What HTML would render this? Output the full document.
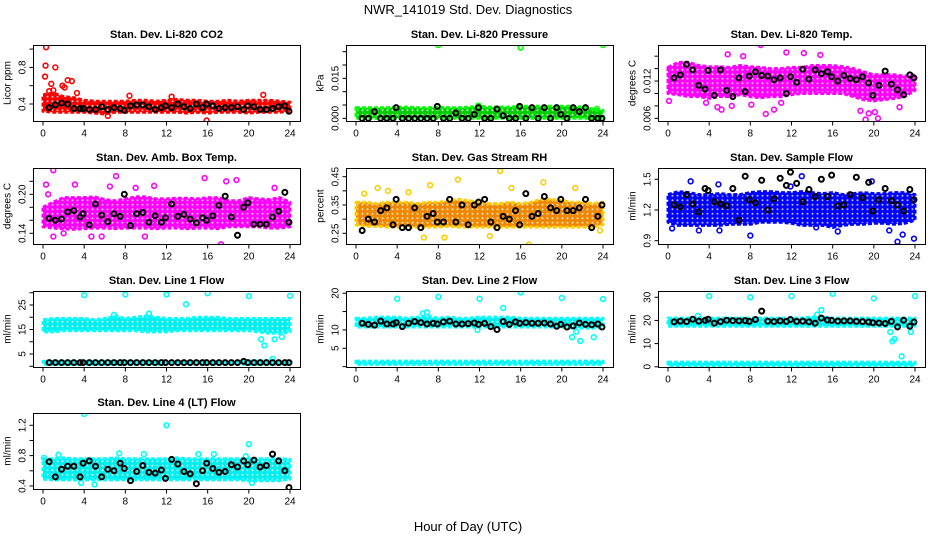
<!DOCTYPE html>
<html><head><meta charset="utf-8">
<style>
html,body{margin:0;padding:0;background:#fff;}
svg{display:block;font-family:"Liberation Sans",Arial,sans-serif;}
</style></head>
<body>
<svg id="chart" width="936" height="540" viewBox="0 0 936 540">
<defs id="defs"></defs>
<text x="468" y="14" text-anchor="middle" font-size="13">NWR_141019  Std. Dev. Diagnostics</text>
<text x="468" y="531" text-anchor="middle" font-size="13">Hour of Day (UTC)</text>
</svg>
<script>
const xTicks=[0,4,8,12,16,20,24];
const bandHours=[0,1,2,3,4,5,6,7,8,9,10,11,12,13,14,15,16,17,18,19,20,21,22,23,24];
const blackHours=[0.6,1.2,1.8,2.4,3.0,3.6,3.9,4.5,5.1,5.7,6.3,6.9,7.5,7.9,8.5,9.1,9.7,10.3,10.9,11.5,11.9,12.5,13.1,13.7,14.3,14.9,15.5,15.9,16.5,17.1,17.7,18.3,18.9,19.5,19.9,20.5,21.1,21.7,22.3,22.9,23.5,23.9];

// Panel 1 CO2
const p1Lo=[0.32,0.31,0.31,0.31,0.31,0.30,0.29,0.31,0.31,0.31,0.31,0.31,0.31,0.31,0.30,0.31,0.30,0.31,0.31,0.31,0.30,0.31,0.31,0.31,0.32];
const p1Hi=[0.50,0.52,0.48,0.47,0.44,0.43,0.43,0.43,0.43,0.44,0.44,0.43,0.44,0.45,0.44,0.44,0.43,0.43,0.44,0.43,0.44,0.44,0.44,0.43,0.42];
const p1OutX=[0.2,0.3,0.25,1.2,0.8,2.4,2.8,1.9,2.1,1.0,8.4,12.5,21.4,15.9,6.3,0.6,3.3];
const p1OutY=[0.70,1.02,0.82,0.80,0.62,0.66,0.65,0.60,0.58,0.55,0.49,0.48,0.50,0.22,0.27,0.54,0.52];
const p1Black=[0.36,0.39,0.41,0.40,0.35,0.35,0.35,0.34,0.34,0.37,0.34,0.36,0.35,0.33,0.38,0.39,0.39,0.37,0.34,0.36,0.38,0.36,0.40,0.37,0.35,0.40,0.36,0.40,0.38,0.35,0.36,0.36,0.37,0.34,0.38,0.37,0.34,0.34,0.35,0.37,0.38,0.32];
const p1YTicks=[0.4,0.6,0.8,1.0];
const p1YLabels=["0.4","","0.8",""];

// Panel 2 Pressure
const p2Lo=[0,0,0,0,0,0,0,0,0,0,0,0,0,0,0,0,0,0,0,0,0,0,0,0,0];
const p2Hi=[0.0040,0.0040,0.0040,0.0040,0.0042,0.0042,0.0040,0.0040,0.0042,0.0040,0.0040,0.0042,0.0045,0.0042,0.0042,0.0042,0.0045,0.0045,0.0045,0.0045,0.0045,0.0045,0.0042,0.0035,0.0030];
const p2OutX=[8,16,24,11.9,23.4];
const p2OutY=[0.0275,0.0265,0.0275,0.0048,0.0035];
const p2Black=[0,0,0.0025,0,0,0,0.004,0,0,0,0,0,0,0.0045,0,0,0.002,0,0,0.0015,0.004,0,0,0.0035,0.001,0,0,0.0045,0,0.004,0,0.004,0,0.004,0.0015,0,0.004,0.0025,0.004,0,0,0];
const p2YTicks=[0,0.005,0.010,0.015,0.020,0.025];
const p2YLabels=["0.000","","","0.015","",""];

// Panel 3 Temp
const p3Lo=[0.0100,0.0098,0.0095,0.0095,0.0092,0.0095,0.0095,0.0098,0.0095,0.0093,0.0095,0.0095,0.0098,0.0100,0.0100,0.0100,0.0100,0.0100,0.0095,0.0090,0.0088,0.0090,0.0092,0.0095,0.0105];
const p3Hi=[0.0142,0.0150,0.0150,0.0145,0.0143,0.0143,0.0142,0.0145,0.0143,0.0142,0.0140,0.0140,0.0142,0.0142,0.0145,0.0145,0.0145,0.0143,0.0140,0.0135,0.0130,0.0130,0.0130,0.0128,0.0130];
const p3OutX=[9.0,9.5,10.3,11.0,8.1,3.7,4.8,5.2,6.2,7.3,5.8,14.8,19.2,20.4,20.1,18.7,19.5,22.5,11.5,13.2,0.1];
const p3OutY=[0.0178,0.0067,0.0074,0.0085,0.0082,0.0085,0.0078,0.0074,0.0080,0.0160,0.0163,0.0162,0.0058,0.0060,0.0070,0.0072,0.0068,0.0078,0.0166,0.0165,0.0088];
const p3Black=[0.0125,0.0130,0.0147,0.0138,0.0113,0.0107,0.0137,0.0097,0.0138,0.0105,0.0095,0.0125,0.0103,0.0128,0.0135,0.0129,0.0128,0.0122,0.0125,0.0100,0.0127,0.0118,0.0139,0.0123,0.0138,0.0132,0.0135,0.0127,0.0120,0.0129,0.0124,0.0122,0.0127,0.0117,0.0097,0.0113,0.0136,0.0115,0.0106,0.0098,0.0130,0.0125];
const p3YTicks=[0.006,0.008,0.010,0.012,0.014,0.016];
const p3YLabels=["0.006","","","0.012","",""];

// Panel 4 Amb Box Temp
const p4Lo=[0.150,0.148,0.147,0.146,0.147,0.148,0.148,0.147,0.148,0.148,0.148,0.147,0.148,0.148,0.147,0.148,0.148,0.147,0.150,0.150,0.150,0.150,0.148,0.148,0.150];
const p4Hi=[0.180,0.188,0.195,0.195,0.195,0.196,0.192,0.190,0.193,0.196,0.196,0.193,0.193,0.194,0.194,0.193,0.195,0.195,0.190,0.190,0.195,0.193,0.192,0.195,0.188];
const p4OutX=[1.0,0.3,1.0,3.1,4.7,5.7,6.5,9.9,10.8,15.7,17.8,18.8,17.3,22.5,7.1,9.0,0.5,2.0];
const p4OutY=[0.237,0.215,0.135,0.215,0.135,0.135,0.212,0.135,0.213,0.225,0.220,0.222,0.123,0.210,0.228,0.210,0.200,0.140];
const p4Black=[0.163,0.160,0.162,0.173,0.175,0.165,0.170,0.153,0.185,0.168,0.158,0.170,0.166,0.200,0.152,0.170,0.172,0.157,0.167,0.157,0.164,0.185,0.166,0.169,0.162,0.156,0.164,0.160,0.167,0.183,0.197,0.165,0.137,0.180,0.187,0.154,0.154,0.154,0.165,0.174,0.203,0.157];
const p4YTicks=[0.14,0.16,0.18,0.20,0.22];
const p4YLabels=["0.14","","","0.20",""];

// Panel 5 RH
const p5Lo=[0.280,0.275,0.275,0.272,0.272,0.272,0.272,0.272,0.272,0.275,0.272,0.272,0.272,0.272,0.272,0.272,0.272,0.272,0.272,0.272,0.272,0.272,0.272,0.272,0.280];
const p5Hi=[0.360,0.360,0.355,0.360,0.360,0.360,0.355,0.360,0.360,0.365,0.370,0.365,0.360,0.355,0.355,0.360,0.355,0.360,0.370,0.370,0.365,0.360,0.360,0.355,0.360];
const p5OutX=[7.2,9.9,14.0,15.1,18.2,21.3,16.8,6.6,8.6,13.0,2.1,3.1,0.8,5.1,23.7];
const p5OutY=[0.42,0.44,0.47,0.41,0.43,0.41,0.21,0.235,0.235,0.24,0.41,0.40,0.39,0.395,0.26];
const p5Black=[0.26,0.30,0.29,0.33,0.34,0.28,0.37,0.27,0.27,0.34,0.27,0.31,0.32,0.29,0.29,0.37,0.29,0.35,0.28,0.35,0.36,0.37,0.29,0.27,0.31,0.30,0.33,0.28,0.39,0.31,0.32,0.38,0.34,0.33,0.37,0.33,0.33,0.34,0.37,0.27,0.31,0.35];
const p5YTicks=[0.25,0.30,0.35,0.40,0.45];
const p5YLabels=["0.25","","0.35","","0.45"];

// Panel 6 Sample Flow
const p6Lo=[1.08,1.05,1.05,1.05,1.05,1.05,1.06,1.06,1.06,1.08,1.08,1.08,1.07,1.05,1.05,1.05,1.03,1.05,1.06,1.06,1.07,1.07,1.06,1.07,1.10];
const p6Hi=[1.35,1.38,1.37,1.35,1.35,1.36,1.35,1.35,1.37,1.38,1.38,1.37,1.37,1.38,1.37,1.36,1.37,1.35,1.36,1.37,1.36,1.36,1.37,1.37,1.35];
const p6OutX=[0.4,2.2,4.9,8.0,3.0,13.0,19.8,22.3,22.8,23.9,16.5,5.0,11.9,14.4,21.5];
const p6OutY=[1.02,1.48,1.45,0.95,1.00,1.53,1.48,0.89,0.96,0.92,0.99,1.00,1.43,1.03,1.00];
const p6Black=[1.25,1.23,1.35,1.26,1.18,1.41,1.39,1.28,1.26,1.24,1.41,1.10,1.53,1.30,1.27,1.49,1.20,1.31,1.51,1.44,1.57,1.46,1.28,1.40,1.33,1.50,1.33,1.54,1.24,1.25,1.35,1.52,1.32,1.47,1.19,1.30,1.41,1.29,1.25,1.19,1.40,1.30];
const p6YTicks=[0.9,1.2,1.5];
const p6YLabels=["0.9","1.2","1.5"];

// Panel 7 Line 1 Flow
const p7Lo=[14,14,14.5,14.5,14.5,14.5,14.5,14.5,14.5,14.5,14,14,14,14.5,14.5,14.5,14.5,14.5,14.5,14.5,14.5,14,13.5,13.5,14];
const p7Hi=[19,19.5,19.5,19.5,19.5,19,19.5,20.5,19.5,20,20.5,20,19.5,19.5,19.5,20,20,20,19.5,19.5,19.5,19.5,19.5,19.5,19.5];
const p7Lo2=[0.8,0.8,0.8,0.8,0.8,0.8,0.8,0.8,0.8,0.8,0.8,0.8,0.8,0.8,0.8,0.8,0.8,0.8,0.8,0.8,0.8,0.8,0.8,0.8,0.8];
const p7Hi2=[2.0,2.0,2.0,2.0,2.0,2.0,2.0,2.0,2.0,2.0,2.0,2.0,2.0,2.0,2.0,2.0,2.0,2.0,2.0,2.0,2.2,2.2,2.2,2.0,2.0];
const p7OutX=[4,8,12,16,20,24,13.9,21.2,21.5,22.5,23.2,22.3,6.9,10.3];
const p7OutY=[29,29.3,29.3,29.8,28.6,28.7,25.3,11,8.5,11,12,3,21,21.5];
const p7Black=[1.5,1.5,1.5,1.5,1.5,1.5,1.5,1.5,1.5,1.5,1.5,1.5,1.5,1.5,1.5,1.5,1.5,1.5,1.5,1.5,1.5,1.5,1.5,1.5,1.5,1.5,1.5,1.5,1.5,1.5,1.5,1.5,1.5,2.0,1.5,1.5,1.5,1.5,1.5,1.5,1.5,1.5];
const p7YTicks=[0,5,10,15,20,25,30];
const p7YLabels=["","5","","15","","25",""];

// Panel 8 Line 2 Flow
const p8Lo=[10.8,10.8,10.8,10.8,10.8,10.8,10.8,10.8,10.8,10.8,10.8,10.8,10.8,10.8,10.8,10.8,10.8,10.8,10.8,10.8,10.8,10.5,10.5,10.5,10.8];
const p8Hi=[13.2,13.2,13.5,13.5,13.5,13.2,13.5,13.8,13.2,13.5,13.2,13.2,13.5,13.5,13.5,13.5,13.2,13.2,13.2,13.2,13.2,13.2,13.2,13.2,13.2];
const p8Lo2=[0.6,0.6,0.6,0.6,0.6,0.6,0.6,0.6,0.6,0.6,0.6,0.6,0.6,0.6,0.6,0.6,0.6,0.6,0.6,0.6,0.6,0.6,0.6,0.6,0.6];
const p8Hi2=[1.5,1.5,1.5,1.5,1.5,1.5,1.5,1.5,1.5,1.5,1.5,1.5,1.5,1.5,1.5,1.5,1.5,1.5,1.5,1.5,1.5,1.5,1.5,1.5,1.5];
const p8OutX=[4,8,12,16,20,24,14.3,11.8,21,21.8,21.4,23.1,6.5,6.9];
const p8OutY=[18.5,19,18.5,20.2,18.7,18.4,16,10,8,7,9.5,8,14.5,14.8];
const p8Black=[11.8,11.5,11.3,12.4,11.6,11.6,12.0,10.9,11.8,12.3,12.0,11.6,11.8,11.6,12.2,12.4,11.6,11.6,11.7,11.9,11.5,11.8,10.9,10.1,12.3,11.5,12.2,11.8,12.0,11.8,11.8,11.9,11.6,11.0,11.5,10.8,11.1,11.9,11.5,11.4,11.6,10.8];
const p8YTicks=[0,5,10,15,20];
const p8YLabels=["","5","10","","20"];

// Panel 9 Line 3 Flow
const p9Lo=[17.5,17.5,17.5,17.5,17.5,17.5,17.5,17.5,17.5,17.5,17.5,17.5,17.5,17.5,17.5,17.5,17.5,17.5,17.5,17.5,17.5,17.5,17.5,17.5,17.5];
const p9Hi=[21,21,21,21,21,21,21,21,21,21,21,21,21,21,21.5,21.5,21,21,21,21,21,21,21,21,21];
const p9Lo2=[0.5,0.5,0.5,0.5,0.5,0.5,0.5,0.5,0.5,0.5,0.5,0.5,0.5,0.5,0.5,0.5,0.5,0.5,0.5,0.5,0.5,0.5,0.5,0.5,0.5];
const p9Hi2=[2,2,2,2,2,2,2,2,2,2,2,2,2,2,2,2,2,2,2,2,2,2,2,2,2];
const p9OutX=[4,8,12,16,20,24,14.9,2.9,21.6,21.8,22,22.7,23.6,14.5];
const p9OutY=[30.5,30,30.5,31.5,29.5,30.5,24.5,22,15,11,12,4.5,15,22.5];
const p9Black=[19.4,19.7,19.5,20.5,19.7,20.0,20.5,18.8,19.5,20.1,19.9,19.8,19.9,19.6,20.4,24.0,19.7,19.5,19.8,19.6,20.4,19.6,19.7,19.4,18.8,21.0,20.2,20.0,19.7,19.8,19.8,19.6,19.5,19.3,19.0,18.9,18.7,19.6,17.2,20.1,17.5,19.3];
const p9YTicks=[0,10,20,30];
const p9YLabels=["0","10","20","30"];

// Panel 10 Line 4 (LT) Flow
const p10Lo=[0.49,0.48,0.48,0.48,0.48,0.48,0.48,0.48,0.48,0.48,0.48,0.48,0.48,0.48,0.48,0.48,0.48,0.48,0.48,0.48,0.47,0.47,0.47,0.47,0.49];
const p10Hi=[0.76,0.76,0.77,0.76,0.76,0.76,0.76,0.77,0.76,0.76,0.76,0.76,0.76,0.77,0.76,0.76,0.76,0.76,0.76,0.76,0.76,0.76,0.76,0.76,0.75];
const p10OutX=[4,12,20,7.4,5,3.7,1.5,9.8,15.1,16.6,19.7,20.3,0.1];
const p10OutY=[1.35,1.2,0.95,0.83,0.42,0.44,0.81,0.82,0.82,0.82,0.79,0.44,0.77];
const p10Black=[0.72,0.52,0.62,0.66,0.66,0.52,0.70,0.73,0.66,0.52,0.62,0.60,0.70,0.63,0.47,0.59,0.67,0.58,0.57,0.61,0.50,0.75,0.69,0.59,0.56,0.43,0.60,0.70,0.63,0.58,0.59,0.68,0.65,0.73,0.68,0.74,0.65,0.67,0.82,0.73,0.60,0.38];
const p10YTicks=[0.4,0.6,0.8,1.0,1.2];
const p10YLabels=["0.4","","0.8","","1.2"];

const panels=[
 {title:"Stan. Dev. Li-820 CO2",ylab:"Licor ppm",L:33,T:45,lo:p1Lo,hi:p1Hi,ox:p1OutX,oy:p1OutY,bk:p1Black,yt:p1YTicks,yl:p1YLabels,ymin:0.214,ymax:1.045,fill:"#ff0000",stroke:"#ff0000"},
 {title:"Stan. Dev. Li-820 Pressure",ylab:"kPa",L:346,T:45,lo:p2Lo,hi:p2Hi,ox:p2OutX,oy:p2OutY,bk:p2Black,yt:p2YTicks,yl:p2YLabels,ymin:-0.001,ymax:0.0275,fill:"#00cc00",stroke:"#00ff00"},
 {title:"Stan. Dev. Li-820 Temp.",ylab:"degrees C",L:658,T:45,lo:p3Lo,hi:p3Hi,ox:p3OutX,oy:p3OutY,bk:p3Black,yt:p3YTicks,yl:p3YLabels,ymin:0.00557,ymax:0.0178,fill:"#ff00ff",stroke:"#ff00ff"},
 {title:"Stan. Dev. Amb. Box Temp.",ylab:"degrees C",L:33,T:168,lo:p4Lo,hi:p4Hi,ox:p4OutX,oy:p4OutY,bk:p4Black,yt:p4YTicks,yl:p4YLabels,ymin:0.1235,ymax:0.2405,fill:"#ff00ff",stroke:"#ff00ff"},
 {title:"Stan. Dev. Gas Stream RH",ylab:"percent",L:346,T:168,lo:p5Lo,hi:p5Hi,ox:p5OutX,oy:p5OutY,bk:p5Black,yt:p5YTicks,yl:p5YLabels,ymin:0.2122,ymax:0.4807,fill:"#ee8800",stroke:"#ffcc00"},
 {title:"Stan. Dev. Sample Flow",ylab:"ml/min",L:658,T:168,lo:p6Lo,hi:p6Hi,ox:p6OutX,oy:p6OutY,bk:p6Black,yt:p6YTicks,yl:p6YLabels,ymin:0.868,ymax:1.61,fill:"#0000ff",stroke:"#0000ff"},
 {title:"Stan. Dev. Line 1 Flow",ylab:"ml/min",L:33,T:291,lo:p7Lo,hi:p7Hi,lo2:p7Lo2,hi2:p7Hi2,ox:p7OutX,oy:p7OutY,bk:p7Black,yt:p7YTicks,yl:p7YLabels,ymin:-0.3,ymax:30.7,fill:"#00eeee",stroke:"#00ffff"},
 {title:"Stan. Dev. Line 2 Flow",ylab:"ml/min",L:346,T:291,lo:p8Lo,hi:p8Hi,lo2:p8Lo2,hi2:p8Hi2,ox:p8OutX,oy:p8OutY,bk:p8Black,yt:p8YTicks,yl:p8YLabels,ymin:-0.1,ymax:20.6,fill:"#00eeee",stroke:"#00ffff"},
 {title:"Stan. Dev. Line 3 Flow",ylab:"ml/min",L:658,T:291,lo:p9Lo,hi:p9Hi,lo2:p9Lo2,hi2:p9Hi2,ox:p9OutX,oy:p9OutY,bk:p9Black,yt:p9YTicks,yl:p9YLabels,ymin:-0.1,ymax:32.7,fill:"#00eeee",stroke:"#00ffff"},
 {title:"Stan. Dev. Line 4 (LT) Flow",ylab:"ml/min",L:33,T:413,lo:p10Lo,hi:p10Hi,ox:p10OutX,oy:p10OutY,bk:p10Black,yt:p10YTicks,yl:p10YLabels,ymin:0.36,ymax:1.362,fill:"#00eeee",stroke:"#00ffff"}
];

const NS="http://www.w3.org/2000/svg";
const svg=document.getElementById("chart");
const defs=document.getElementById("defs");
function mk(tag,attrs,parent){const e=document.createElementNS(NS,tag);for(const k in attrs)e.setAttribute(k,attrs[k]);(parent||svg).appendChild(e);return e;}
const W=267,H=76;
panels.forEach((p,pi)=>{
  const pat=mk("pattern",{id:"pat"+pi,patternUnits:"userSpaceOnUse",width:"5",height:"4.5"},defs);
  mk("rect",{x:0,y:0,width:5,height:4.5,fill:p.fill},pat);
  mk("circle",{cx:2.5,cy:2.25,r:1.0,fill:"#fff","fill-opacity":"0.75"},pat);
  const g=mk("g",{});
  
  
  const x0=p.L+10,x1=p.L+W-10;
  const xs=v=>x0+(v/24)*(x1-x0);
  const ys=v=>p.T+H-(v-p.ymin)/(p.ymax-p.ymin)*H;
  const t=mk("text",{x:p.L+W/2,y:p.T-7,"text-anchor":"middle","font-size":"11","font-weight":"bold"},g);
  t.textContent=p.title;
  
  
  const clip=mk("clipPath",{id:"c"+pi},g);
  mk("rect",{x:p.L,y:p.T,width:W,height:H},clip);
  const pg=mk("g",{"clip-path":"url(#c"+pi+")"},g);
  function band(lo,hi,name){
    let d="M"+bandHours.map((h,i)=>xs(h).toFixed(1)+","+ys(hi[i]).toFixed(1)).join("L");
    for(let i=bandHours.length-1;i>=0;i--)d+="L"+xs(bandHours[i]).toFixed(1)+","+ys(lo[i]).toFixed(1);
    const b=mk("path",{d:d+"Z",fill:"url(#pat"+pi+")",stroke:p.stroke,"stroke-width":"3","stroke-linejoin":"round","stroke-dasharray":"4 2"},pg);
    
    
  }
  band(p.lo,p.hi,'series-band');
  if(p.lo2)band(p.lo2,p.hi2,'series-band-low');
  p.ox.forEach((h,i)=>{
    const c=mk("circle",{cx:xs(h),cy:ys(p.oy[i]),r:2.4,fill:"none",stroke:p.stroke,"stroke-width":"1.6"},pg);
    
    
  });
  blackHours.forEach((h,i)=>{
    const c=mk("circle",{cx:xs(h),cy:ys(p.bk[i]),r:2.5,fill:"none",stroke:"#000","stroke-width":"2"},pg);
    
    
  });
  const box=mk("rect",{x:p.L+0.5,y:p.T+0.5,width:W,height:H,fill:"none",stroke:"#000","stroke-width":"1"},g);
  
  
  const yb=p.T+H+0.5;
  xTicks.forEach(v=>{
    mk("line",{x1:xs(v),x2:xs(v),y1:yb,y2:yb+4,stroke:"#000"},g);
    const l=mk("text",{x:xs(v),y:yb+15,"text-anchor":"middle","font-size":"10"},g);
    l.textContent=v;
    
    
  });
  const xl=p.L+0.5;
  p.yt.forEach((v,i)=>{
    const yy=ys(v);
    mk("line",{x1:xl-4,x2:xl,y1:yy,y2:yy,stroke:"#000"},g);
    if(p.yl[i]){
      const l=mk("text",{x:xl-8,y:yy,"text-anchor":"middle","font-size":"10",transform:"rotate(-90 "+(xl-8)+" "+yy+")"},g);
      l.textContent=p.yl[i];
      
      
    }
  });
  const yc=p.T+H/2,ylx=xl-23;
  const yl=mk("text",{x:ylx,y:yc,"text-anchor":"middle","font-size":"10",transform:"rotate(-90 "+ylx+" "+yc+")"},g);
  yl.textContent=p.ylab;
  
  
});
</script>
</body></html>
